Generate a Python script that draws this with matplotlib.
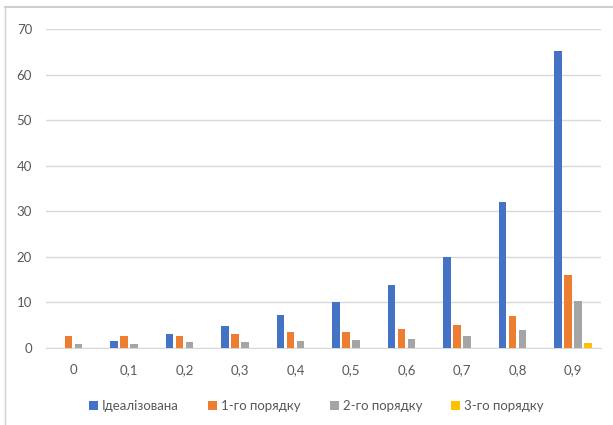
import matplotlib

matplotlib.use("Agg")
import matplotlib.pyplot as plt
from matplotlib.patches import Patch
from matplotlib.lines import Line2D
import numpy as np

plt.rcParams["font.family"] = ["Lato", "DejaVu Sans"]

TEXT = "#595959"
GRID = "#d9d9d9"
FRAME = "#d0d0d0"

CATEGORIES = ["0", "0,1", "0,2", "0,3", "0,4", "0,5", "0,6", "0,7", "0,8", "0,9"]
SERIES = ["Ідеалізована", "1-го порядку", "2-го порядку", "3-го порядку"]
COLORS = ["#4472c4", "#ed7d31", "#a5a5a5", "#ffc000"]

IDEAL = [0, 1.4, 3.1, 4.8, 7.1, 10.0, 13.7, 20.0, 32.1, 65.3]
FIRST = [2.5, 2.5, 2.5, 2.9, 3.4, 3.4, 4.2, 5.0, 7.0, 15.9]
SECOND = [0.9, 0.8, 1.2, 1.2, 1.5, 1.7, 2.0, 2.6, 3.9, 10.2]
THIRD = [0, 0, 0, 0, 0, 0, 0, 0, 0, 1.1]

YTICKS = [0, 10, 20, 30, 40, 50, 60, 70]


def main():
    fig = plt.figure(figsize=(6.13, 4.25), dpi=100)
    fig.patch.set_facecolor("white")
    ax = fig.add_axes([0.075, 0.182, 0.905, 0.749])

    x = np.arange(len(CATEGORIES))
    w = 0.135
    step = 0.18
    for i, (vals, col) in enumerate(zip([IDEAL, FIRST, SECOND, THIRD], COLORS)):
        ax.bar(x + (i - 1.5) * step, vals, width=w, color=col, zorder=3)

    ax.set_xlim(-0.5, len(CATEGORIES) - 0.5)
    ax.set_ylim(0, 70)
    ax.set_yticks(YTICKS)
    ax.set_xticks(x)
    ax.set_xticklabels(CATEGORIES)
    ax.tick_params(length=0, labelsize=9.5, colors=TEXT)
    ax.tick_params(axis="x", pad=12)
    ax.tick_params(axis="y", pad=10)
    ax.grid(axis="y", color=GRID, linewidth=1, zorder=0)
    ax.set_axisbelow(True)
    for s in ["top", "right", "left"]:
        ax.spines[s].set_visible(False)
    ax.spines["bottom"].set_color(GRID)

    handles = [Patch(facecolor=c, label=l) for c, l in zip(COLORS, SERIES)]
    fig.legend(
        handles=handles,
        loc="center",
        bbox_to_anchor=(0.516, 0.045),
        ncol=4,
        frameon=False,
        fontsize=9.5,
        labelcolor=TEXT,
        handlelength=0.7,
        handleheight=0.7,
        handletextpad=0.3,
        columnspacing=2.2,
    )

    # outer chart border (top and left edges visible)
    fig.add_artist(Line2D([5 / 613, 1.0], [418 / 425, 418 / 425],
                          transform=fig.transFigure, color=FRAME, linewidth=1.5))
    fig.add_artist(Line2D([5 / 613, 5 / 613], [0.0, 418 / 425],
                          transform=fig.transFigure, color=FRAME, linewidth=1.0))

    fig.savefig("out.png", dpi=100, facecolor="white")
    plt.close(fig)


if __name__ == "__main__":
    main()
